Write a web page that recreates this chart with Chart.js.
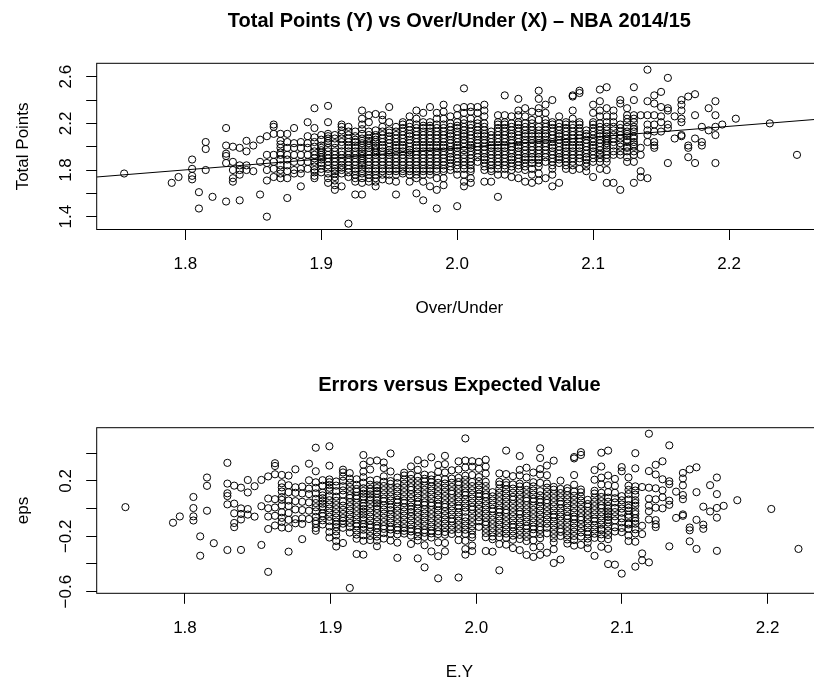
<!DOCTYPE html>
<html>
<head>
<meta charset="utf-8">
<script src="https://cdn.jsdelivr.net/npm/chart.js@4.4.1/dist/chart.umd.min.js"></script>
<style>
  html, body { margin: 0; padding: 0; background: #fff; width: 814px; height: 682px; overflow: hidden; }
  canvas { position: absolute; left: 0; }
  #fitChart { top: 0; }
  #errChart { top: 340px; }
</style>
</head>
<body>
<canvas id="fitChart" width="840" height="340"></canvas>
<canvas id="errChart" width="840" height="342"></canvas>
<script>
// over/under lines (in hundreds of points) and the game totals seen at each line
const overUnder = [
  1.755, 1.79, 1.795, 1.805, 1.81, 1.815, 1.82, 1.83, 1.835, 1.84, 1.845, 1.85, 1.855,
  1.86, 1.865, 1.87, 1.875, 1.88, 1.885, 1.89, 1.895, 1.90, 1.905, 1.91, 1.915, 1.92,
  1.925, 1.93, 1.935, 1.94, 1.945, 1.95, 1.955, 1.96, 1.965, 1.97, 1.975, 1.98, 1.985,
  1.99, 1.995, 2.00, 2.005, 2.01, 2.015, 2.02, 2.025, 2.03, 2.035, 2.04, 2.045, 2.05,
  2.055, 2.06, 2.065, 2.07, 2.075, 2.08, 2.085, 2.09, 2.095, 2.10, 2.105, 2.11, 2.115,
  2.12, 2.125, 2.13, 2.135, 2.14, 2.145, 2.15, 2.155, 2.16, 2.165, 2.17, 2.175, 2.18,
  2.185, 2.19, 2.195, 2.205, 2.23, 2.25
]
const totalPoints = [
  [1.77], [1.69], [1.74], [1.89, 1.81, 1.75, 1.72], [1.61, 1.47], [2.04, 1.98, 1.80], [1.57],
  [2.16, 2.01, 1.94, 1.92, 1.86, 1.53], [2.00, 1.87, 1.80, 1.73, 1.70], [1.99, 1.84, 1.80, 1.76, 1.54],
  [2.05, 1.96, 1.84, 1.80], [2.01, 1.79], [2.06, 1.87, 1.59],
  [2.09, 1.93, 1.86, 1.80, 1.71, 1.40],
  [2.19, 2.17, 2.11, 1.93, 1.87, 1.81, 1.74],
  [2.11, 2.05, 2.02, 1.99, 1.95, 1.93, 1.89, 1.84, 1.80, 1.77, 1.73],
  [2.11, 2.04, 1.99, 1.93, 1.89, 1.84, 1.79, 1.73, 1.56],
  [2.16, 2.03, 1.99, 1.93, 1.87, 1.80, 1.77],
  [2.04, 1.99, 1.93, 1.87, 1.81, 1.77, 1.66],
  [2.21, 2.09, 2.03, 1.99, 1.93, 1.87, 1.81],
  [2.33, 2.16, 2.08, 2.04, 2.00, 1.96, 1.93, 1.90, 1.87, 1.83, 1.80, 1.78, 1.75, 1.73],
  [2.10, 2.06, 2.01, 1.99, 1.97, 1.95, 1.93, 1.91, 1.89, 1.86, 1.84, 1.81, 1.78],
  [2.35, 2.21, 2.11, 2.09, 2.07, 2.05, 2.03, 1.99, 1.96, 1.93, 1.90, 1.87, 1.84, 1.81, 1.77, 1.73, 1.69],
  [2.10, 2.07, 2.03, 1.99, 1.96, 1.93, 1.90, 1.87, 1.84, 1.81, 1.79, 1.77, 1.74, 1.71, 1.67, 1.63],
  [2.19, 2.17, 2.14, 2.11, 2.07, 2.04, 2.01, 1.96, 1.93, 1.90, 1.87, 1.84, 1.82, 1.80, 1.77, 1.66],
  [2.17, 2.13, 2.10, 2.07, 2.04, 2.01, 1.99, 1.96, 1.93, 1.90, 1.87, 1.84, 1.81, 1.78, 1.74, 1.34],
  [2.13, 2.09, 2.06, 2.04, 2.01, 1.99, 1.96, 1.93, 1.90, 1.87, 1.84, 1.81, 1.79, 1.76, 1.73, 1.70, 1.59],
  [2.31, 2.24, 2.19, 2.15, 2.11, 2.07, 2.05, 2.03, 2.01, 1.99, 1.96, 1.94, 1.92, 1.90, 1.88, 1.86, 1.84, 1.81, 1.79, 1.77, 1.73, 1.69, 1.59],
  [2.27, 2.21, 2.13, 2.10, 2.07, 2.05, 2.03, 2.01, 1.99, 1.96, 1.93, 1.90, 1.87, 1.84, 1.81, 1.79, 1.76, 1.73, 1.70],
  [2.28, 2.14, 2.10, 2.08, 2.06, 2.04, 2.01, 1.99, 1.97, 1.95, 1.93, 1.90, 1.87, 1.84, 1.81, 1.79, 1.76, 1.73, 1.70, 1.66],
  [2.27, 2.23, 2.17, 2.13, 2.10, 2.07, 2.04, 2.01, 1.99, 1.96, 1.93, 1.90, 1.87, 1.84, 1.81, 1.79, 1.76, 1.72],
  [2.34, 2.21, 2.14, 2.12, 2.09, 2.06, 2.03, 2.00, 1.97, 1.95, 1.93, 1.90, 1.87, 1.84, 1.81, 1.79, 1.76, 1.71],
  [2.17, 2.13, 2.10, 2.07, 2.04, 2.01, 1.99, 1.96, 1.93, 1.90, 1.87, 1.84, 1.81, 1.79, 1.76, 1.70, 1.59],
  [2.21, 2.19, 2.16, 2.13, 2.10, 2.07, 2.04, 2.01, 1.99, 1.96, 1.93, 1.90, 1.87, 1.84, 1.81, 1.79, 1.77],
  [2.26, 2.20, 2.17, 2.14, 2.11, 2.09, 2.06, 2.03, 2.00, 1.97, 1.95, 1.93, 1.90, 1.87, 1.84, 1.81, 1.79, 1.76, 1.70],
  [2.31, 2.24, 2.19, 2.16, 2.13, 2.10, 2.07, 2.04, 2.01, 1.99, 1.96, 1.93, 1.90, 1.87, 1.84, 1.81, 1.79, 1.76, 1.73, 1.60],
  [2.29, 2.21, 2.18, 2.16, 2.13, 2.10, 2.07, 2.04, 2.01, 1.99, 1.96, 1.93, 1.90, 1.87, 1.84, 1.81, 1.79, 1.76, 1.70, 1.54],
  [2.34, 2.21, 2.18, 2.16, 2.13, 2.10, 2.07, 2.04, 2.01, 1.99, 1.96, 1.93, 1.90, 1.87, 1.84, 1.81, 1.79, 1.76, 1.66],
  [2.29, 2.24, 2.19, 2.16, 2.13, 2.10, 2.07, 2.04, 2.01, 1.99, 1.96, 1.93, 1.90, 1.87, 1.84, 1.81, 1.79, 1.73, 1.63, 1.47],
  [2.36, 2.30, 2.24, 2.19, 2.16, 2.13, 2.10, 2.07, 2.04, 2.01, 1.99, 1.96, 1.93, 1.90, 1.87, 1.84, 1.81, 1.79, 1.73, 1.67],
  [2.26, 2.20, 2.17, 2.14, 2.11, 2.09, 2.06, 2.03, 2.00, 1.97, 1.94, 1.91, 1.89, 1.86, 1.83, 1.80],
  [2.33, 2.27, 2.21, 2.18, 2.16, 2.13, 2.10, 2.07, 2.04, 2.01, 1.99, 1.96, 1.93, 1.90, 1.87, 1.84, 1.81, 1.76, 1.49],
  [2.50, 2.34, 2.29, 2.23, 2.20, 2.17, 2.14, 2.11, 2.09, 2.06, 2.03, 2.00, 1.97, 1.93, 1.90, 1.87, 1.84, 1.81, 1.76, 1.70, 1.66],
  [2.34, 2.30, 2.24, 2.19, 2.16, 2.13, 2.10, 2.07, 2.04, 2.01, 1.99, 1.96, 1.93, 1.90, 1.87, 1.84, 1.81, 1.79, 1.73, 1.69],
  [2.34, 2.29, 2.23, 2.20, 2.17, 2.14, 2.11, 2.09, 2.06, 2.03, 2.00, 1.97, 1.94, 1.91, 1.87],
  [2.36, 2.31, 2.26, 2.20, 2.17, 2.14, 2.11, 2.09, 2.06, 2.03, 2.00, 1.97, 1.94, 1.91, 1.89, 1.86, 1.83, 1.80, 1.70],
  [2.13, 2.10, 2.07, 2.04, 2.01, 1.99, 1.96, 1.93, 1.90, 1.87, 1.84, 1.81, 1.79, 1.70],
  [2.27, 2.21, 2.19, 2.16, 2.13, 2.10, 2.07, 2.04, 2.01, 1.99, 1.96, 1.93, 1.90, 1.87, 1.84, 1.81, 1.76, 1.57],
  [2.44, 2.27, 2.21, 2.19, 2.16, 2.13, 2.10, 2.07, 2.04, 2.01, 1.99, 1.96, 1.93, 1.90, 1.87, 1.84, 1.81, 1.76],
  [2.26, 2.20, 2.17, 2.14, 2.11, 2.09, 2.06, 2.03, 2.00, 1.97, 1.94, 1.91, 1.89, 1.86, 1.83, 1.80, 1.74],
  [2.41, 2.31, 2.27, 2.21, 2.19, 2.16, 2.13, 2.10, 2.07, 2.04, 2.01, 1.99, 1.96, 1.93, 1.90, 1.87, 1.84, 1.81, 1.73],
  [2.33, 2.26, 2.20, 2.17, 2.14, 2.11, 2.09, 2.06, 2.03, 2.00, 1.97, 1.94, 1.91, 1.89, 1.86, 1.83, 1.80, 1.70],
  [2.30, 2.23, 2.20, 2.17, 2.14, 2.11, 2.09, 2.06, 2.03, 2.00, 1.97, 1.94, 1.91, 1.89, 1.86, 1.81, 1.76, 1.69],
  [2.48, 2.41, 2.33, 2.29, 2.23, 2.17, 2.14, 2.11, 2.09, 2.06, 2.03, 2.00, 1.97, 1.94, 1.91, 1.89, 1.86, 1.83, 1.77, 1.71],
  [2.36, 2.29, 2.23, 2.20, 2.17, 2.14, 2.11, 2.09, 2.06, 2.03, 2.00, 1.97, 1.94, 1.91, 1.87, 1.73],
  [2.40, 2.21, 2.19, 2.16, 2.13, 2.10, 2.07, 2.04, 2.01, 1.99, 1.96, 1.93, 1.90, 1.87, 1.84, 1.81, 1.76, 1.66],
  [2.26, 2.20, 2.17, 2.14, 2.11, 2.09, 2.06, 2.03, 2.00, 1.97, 1.94, 1.91, 1.89, 1.86, 1.69],
  [2.21, 2.19, 2.16, 2.13, 2.10, 2.07, 2.04, 2.01, 1.99, 1.96, 1.93, 1.90, 1.87, 1.84, 1.81],
  [2.44, 2.43, 2.31, 2.24, 2.19, 2.16, 2.13, 2.10, 2.07, 2.04, 2.01, 1.99, 1.96, 1.93, 1.90, 1.87, 1.84, 1.80],
  [2.48, 2.46, 2.21, 2.19, 2.16, 2.13, 2.10, 2.07, 2.04, 2.01, 1.99, 1.96, 1.93, 1.90, 1.87, 1.81],
  [2.14, 2.11, 2.09, 2.06, 2.03, 2.00, 1.97, 1.94, 1.91, 1.89, 1.86, 1.83, 1.79],
  [2.36, 2.29, 2.21, 2.19, 2.16, 2.13, 2.10, 2.07, 2.04, 2.01, 1.99, 1.96, 1.93, 1.90, 1.87, 1.74],
  [2.49, 2.39, 2.31, 2.26, 2.20, 2.17, 2.14, 2.11, 2.09, 2.06, 2.03, 2.00, 1.97, 1.94, 1.93, 1.90, 1.87, 1.81],
  [2.51, 2.33, 2.26, 2.21, 2.17, 2.14, 2.11, 2.09, 2.07, 2.05, 2.03, 2.01, 1.99, 1.96, 1.93, 1.90, 1.87, 1.80, 1.69],
  [2.31, 2.26, 2.21, 2.17, 2.14, 2.10, 2.07, 2.04, 2.01, 1.96, 1.93, 1.69],
  [2.40, 2.37, 2.19, 2.16, 2.13, 2.10, 2.07, 2.03, 2.00, 1.96, 1.93, 1.63],
  [2.33, 2.27, 2.24, 2.21, 2.17, 2.13, 2.11, 2.09, 2.06, 2.04, 2.00, 1.99, 1.96, 1.91, 1.87],
  [2.51, 2.40, 2.27, 2.24, 2.21, 2.17, 2.15, 2.13, 2.09, 2.07, 2.04, 2.02, 2.00, 1.96, 1.93, 1.87, 1.69],
  [2.27, 1.99, 1.93, 1.79, 1.74],
  [2.66, 2.39, 2.27, 2.19, 2.14, 2.10, 2.04, 1.73],
  [2.44, 2.37, 2.27, 2.19, 2.13, 2.04, 2.01, 1.99],
  [2.47, 2.34, 2.26, 2.21, 2.13],
  [2.59, 2.33, 2.31, 2.19, 2.16, 1.86],
  [2.26, 2.07],
  [2.40, 2.36, 2.31, 2.24, 2.21, 2.10, 2.09],
  [2.43, 2.01, 1.99, 1.91],
  [2.45, 2.27, 2.07, 1.86],
  [2.17, 2.04, 2.01],
  [2.33, 2.14],
  [2.39, 2.27, 2.17, 2.10, 1.86],
  [2.19], [2.24], [2.20], [1.93]
]

// linear fit: E.Y = a + b * Over/Under
const fitIntercept = 0.121
const fitSlope = 0.9334

const ouTicks = [1.8, 1.9, 2.0, 2.1, 2.2]
const tpTicks = [1.4, 1.6, 1.8, 2.0, 2.2, 2.4, 2.6]
const tpLabels = [1.4, 1.8, 2.2, 2.6]
const eyTicks = [1.8, 1.9, 2.0, 2.1, 2.2]
const epsTicks = [-0.6, -0.4, -0.2, 0.0, 0.2, 0.4]
const epsLabels = [-0.6, -0.2, 0.2]

const ouRange = [1.7348, 2.2684]
const tpRange = [1.290, 2.715]
const eyRange = [1.7394, 2.2373]
const epsRange = [-0.612, 0.585]

const FONT = '"Liberation Sans", Arial, Helvetica, sans-serif'
const fmt = v => v.toFixed(1).replace("-", "\u2212")

const games = []
overUnder.forEach((ou, i) => totalPoints[i].forEach(tp => games.push({ ou, tp })))
const expected = ou => fitIntercept + fitSlope * ou

// R-ish frame: box, titles, rotated y labels
const rFrame = {
  id: "rFrame",
  afterDraw(chart, args, opts) {
    const { ctx, chartArea: a, scales } = chart
    const cx = (a.left + a.right) / 2
    const cy = (a.top + a.bottom) / 2
    ctx.save()
    ctx.strokeStyle = "#000"
    ctx.lineWidth = 1
    ctx.strokeRect(a.left, a.top, a.right - a.left, a.bottom - a.top)
    ctx.fillStyle = "#000"
    ctx.textAlign = "center"
    ctx.textBaseline = "alphabetic"
    ctx.font = "bold 20px " + FONT
    ctx.fillText(opts.title, cx, a.top - 36.6)
    ctx.font = "17px " + FONT
    ctx.fillText(opts.xTitle, cx, a.bottom + 83.2)
    opts.yLabels.forEach(v => {
      ctx.save()
      ctx.translate(71, scales.y.getPixelForValue(v))
      ctx.rotate(-Math.PI / 2)
      ctx.fillText(fmt(v), 0, 0)
      ctx.restore()
    })
    ctx.translate(28.3, cy)
    ctx.rotate(-Math.PI / 2)
    ctx.fillText(opts.yTitle, 0, 0)
    ctx.restore()
  }
}

function axes(xr, xt, yr, yt) {
  const grid = { drawOnChartArea: false, drawTicks: true, tickLength: 10.5, color: "#000", lineWidth: 1 }
  return {
    x: {
      type: "linear", min: xr[0], max: xr[1],
      afterBuildTicks: s => { s.ticks = xt.map(value => ({ value })) },
      afterFit: s => { s.height = 40 },
      grid: grid,
      border: { display: false },
      ticks: { color: "#000", padding: 14, font: { family: FONT, size: 17 }, maxRotation: 0, callback: v => fmt(v) }
    },
    y: {
      type: "linear", min: yr[0], max: yr[1],
      afterBuildTicks: s => { s.ticks = yt.map(value => ({ value })) },
      afterFit: s => { s.width = 96.7 },
      grid: grid,
      border: { display: false },
      ticks: { display: false }
    }
  }
}

const pointStyle = {
  pointRadius: 3.6,
  pointBorderWidth: 1,
  pointBorderColor: "#000",
  pointBackgroundColor: "rgba(0,0,0,0)",
  showLine: false
}

new Chart(document.getElementById("fitChart"), {
  type: "scatter",
  data: {
    datasets: [
      {
        type: "line",
        data: ouRange.map(x => ({ x, y: expected(x) })),
        borderColor: "#000",
        borderWidth: 1,
        pointRadius: 0,
        fill: false
      },
      Object.assign({ data: games.map(g => ({ x: g.ou, y: g.tp })) }, pointStyle)
    ]
  },
  options: {
    responsive: false,
    animation: false,
    events: [],
    layout: { padding: { left: 0, top: 63.3, right: 18, bottom: 70.5 } },
    scales: axes(ouRange, ouTicks, tpRange, tpTicks),
    plugins: {
      legend: { display: false },
      tooltip: { enabled: false },
      rFrame: {
        title: "Total Points (Y) vs Over/Under (X) \u2013 NBA 2014/15",
        xTitle: "Over/Under",
        yTitle: "Total Points",
        yLabels: tpLabels
      }
    }
  },
  plugins: [rFrame]
})

new Chart(document.getElementById("errChart"), {
  type: "scatter",
  data: {
    datasets: [
      Object.assign({ data: games.map(g => ({ x: expected(g.ou), y: g.tp - expected(g.ou) })) }, pointStyle)
    ]
  },
  options: {
    responsive: false,
    animation: false,
    events: [],
    layout: { padding: { left: 0, top: 87.7, right: 18, bottom: 48.7 } },
    scales: axes(eyRange, eyTicks, epsRange, epsTicks),
    plugins: {
      legend: { display: false },
      tooltip: { enabled: false },
      rFrame: {
        title: "Errors versus Expected Value",
        xTitle: "E.Y",
        yTitle: "eps",
        yLabels: epsLabels
      }
    }
  },
  plugins: [rFrame]
})
</script>
</body>
</html>
